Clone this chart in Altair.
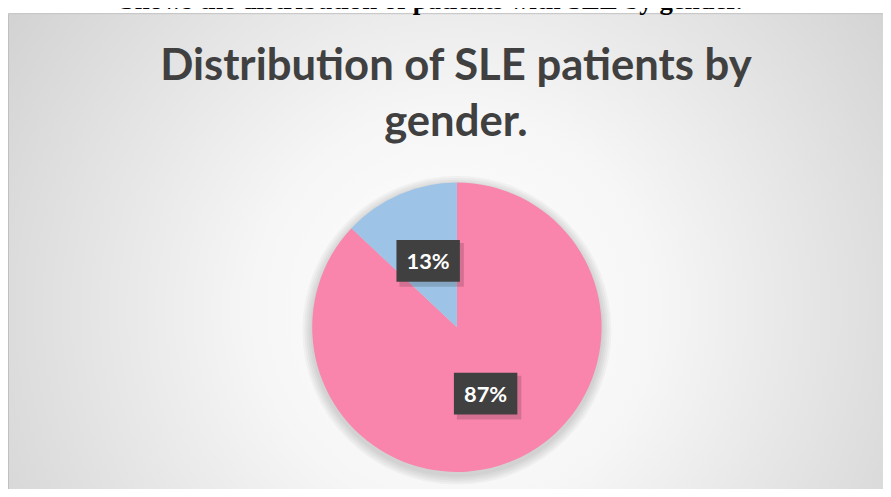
import altair as alt
import pandas as pd

# ---- data ----
genders = ["Female", "Male"]
percents = [87, 13]
order_idx = [0, 1]
slice_colors = ["#F984AC", "#9DC3E6"]
title_lines = ["Distribution of SLE patients by", "gender."]
caption_text = "Shows the distribution of patients with SLE by gender."

# ---- layout constants ----
W, H = 883, 481
CX, CY, R = 453, 320, 146
LR = 73  # label radius
BW, BH = 64, 42

pie_df = pd.DataFrame({"gender": genders, "pct": percents, "ord": order_idx})
one = pd.DataFrame({"a": [0]})

bg_grad = alt.RadialGradient(
    gradient="radial",
    stops=[alt.GradientStop(color="#ffffff", offset=0),
           alt.GradientStop(color="#f6f6f6", offset=0.3),
           alt.GradientStop(color="#c4c4c4", offset=1)],
    x1=0.5, y1=0.55, r1=0, x2=0.5, y2=0.55, r2=0.75,
)

bg = alt.Chart(one).mark_rect(fill=bg_grad, stroke="#bfbfbf", strokeWidth=1).encode(
    x=alt.value(0.5), x2=alt.value(W + 20), y=alt.value(3.5), y2=alt.value(H + 30)
)

caption = alt.Chart(one).mark_text(
    text=caption_text, font="Liberation Serif", fontWeight="bold", fontSize=27,
    align="center", baseline="alphabetic", color="#000000"
).encode(x=alt.value(427), y=alt.value(-1))

title1 = alt.Chart(one).mark_text(
    text=title_lines[0], font="Lato", fontWeight="bold", fontSize=44,
    align="center", baseline="alphabetic", color="#404040"
).encode(x=alt.value(452), y=alt.value(70))
title2 = alt.Chart(one).mark_text(
    text=title_lines[1], font="Lato", fontWeight="bold", fontSize=44,
    align="center", baseline="alphabetic", color="#404040"
).encode(x=alt.value(452), y=alt.value(127))

shadows = [
    alt.Chart(one).mark_arc(theta=0, theta2=6.2832, radius=R + d, x=CX, y=CY + 3, fill="#000000").encode(
        opacity=alt.value(0.03)
    )
    for d in (2, 4, 6, 8, 10)
]

pie = alt.Chart(pie_df).mark_arc(radius=R, x=CX, y=CY).encode(
    theta=alt.Theta("pct:Q", stack=True),
    color=alt.Color("gender:N", scale=alt.Scale(domain=genders, range=slice_colors), legend=None),
    order=alt.Order("ord:Q"),
)

lab_base = alt.Chart(pie_df).transform_joinaggregate(
    total="sum(pct)"
).transform_window(
    cum="sum(pct)", sort=[alt.SortField("ord")], frame=[None, 0]
).transform_calculate(
    mid="(datum.cum - datum.pct/2) / datum.total * 2 * PI",
).transform_calculate(
    lx=f"{CX} + {LR} * sin(datum.mid)",
    ly=f"{CY} - {LR} * cos(datum.mid)",
    label="datum.pct + '%'",
).transform_calculate(
    x1=f"datum.lx - {BW/2}", x2=f"datum.lx + {BW/2}",
    y1=f"datum.ly - {BH/2}", y2=f"datum.ly + {BH/2}",
    sx1=f"datum.lx - {BW/2} + 3", sx2=f"datum.lx + {BW/2} + 4",
    sy1=f"datum.ly - {BH/2} + 3", sy2=f"datum.ly + {BH/2} + 5",
)

box_shadow = lab_base.mark_rect(fill="#000000", opacity=0.15).encode(
    x=alt.X("sx1:Q", scale=None, axis=None), x2="sx2:Q",
    y=alt.Y("sy1:Q", scale=None, axis=None), y2="sy2:Q",
)
box = lab_base.mark_rect(fill="#404040").encode(
    x=alt.X("x1:Q", scale=None, axis=None), x2="x2:Q",
    y=alt.Y("y1:Q", scale=None, axis=None), y2="y2:Q",
)
text = lab_base.mark_text(
    font="Lato", fontWeight="bold", fontSize=22, color="#ffffff",
    align="center", baseline="middle", dy=1
).encode(
    x=alt.X("lx:Q", scale=None, axis=None),
    y=alt.Y("ly:Q", scale=None, axis=None),
    text="label:N",
)

chart = alt.layer(bg, caption, title1, title2, *shadows, pie, box_shadow, box, text).properties(
    width=W, height=H, padding=0, autosize=alt.AutoSizeParams(type="none")
).configure_view(stroke=None, fill="#ffffff")

chart.save("out.html", embed_options={"renderer": "svg", "actions": False})
